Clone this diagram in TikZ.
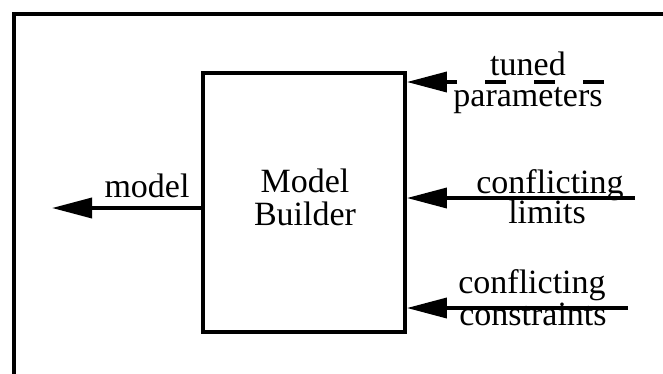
\documentclass[tikz,border=0pt]{standalone}
\usepackage{fontspec}
\setmainfont{Liberation Serif}
\usetikzlibrary{arrows.meta}
\begin{document}
\begin{tikzpicture}[x=1pt,y=-1pt,
  lbl/.style={font=\fontsize{34}{34}\selectfont, inner sep=0pt, anchor=base},
  flow/.style={line width=3.6pt, -{Triangle[length=40pt,width=20pt]}},
  block/.style={draw, line width=3.8pt, minimum width=202pt, minimum height=259pt, inner sep=0pt}]
  \useasboundingbox (0,0) rectangle (663,373);
  \fill[white] (0,0) rectangle (663,373);

  % outer frame (runs off the right and bottom edges)
  \draw[line width=3.4pt] (14,380) -- (14,14) -- (670,14);

  % the model builder block
  \node[block] (mb) at (304,202.5) {};
  \node[lbl] (t1) at (305,192) {Model};
  \node[lbl] (t2) at (305,225) {Builder};

  % output
  \coordinate (modelend) at (52,208);
  \draw[flow] (mb.west |- modelend) -- (modelend);
  \node[lbl] (model) at (147,197) {model};

  % inputs
  \coordinate (tunedin) at (604,82);
  \coordinate (limitsin) at (635,198);
  \coordinate (consin) at (628,308);

  \draw[flow, dash pattern=on 21pt off 28pt] (tunedin) -- (mb.east |- tunedin);
  \draw[flow] (limitsin) -- (mb.east |- limitsin);
  \draw[flow] (consin) -- (mb.east |- consin);

  \node[lbl] (tuned) at (528,75) {tuned};
  \node[lbl] (params) at (528,106) {parameters};
  \node[lbl] (conf1) at (550,193) {conflicting};
  \node[lbl] (limits) at (547,223) {limits};
  \node[lbl] (conf2) at (532,293) {conflicting};
  \node[lbl] (cons) at (533,325) {constraints};
\end{tikzpicture}
\end{document}
